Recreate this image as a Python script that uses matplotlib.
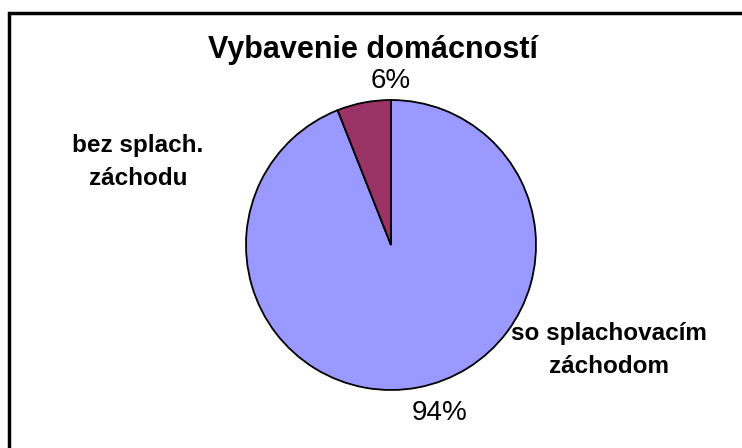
import matplotlib.pyplot as plt
from matplotlib.patches import Rectangle

# Vybavenie domácností - podiel domácností podľa splachovacieho záchodu
categories = ["so splachovacím\nzáchodom", "bez splach.\nzáchodu"]
shares = [94, 6]
pct_labels = ["94%", "6%"]
colors = ["#9999FF", "#993366"]

plt.rcParams["font.family"] = ["Liberation Sans", "DejaVu Sans"]

W, H = 742, 448
fig = plt.figure(figsize=(W / 100, H / 100), dpi=100)

# frame of the chart area (only top/left visible in the original crop)
fig.patches.append(Rectangle((9 / W, -0.1), 1.1, (H - 13) / H + 0.1,
                             transform=fig.transFigure, fill=False,
                             edgecolor="black", linewidth=2.5))

# pie box in pixels: x 246..536, y 100..390
ax = fig.add_axes([246 / W, (H - 390) / H, 290 / W, 290 / H])
ax.pie(shares, colors=colors, startangle=90, counterclock=False,
       wedgeprops=dict(edgecolor="black", linewidth=1.3))
ax.set_aspect("equal")
ax.set_xlim(-1.0, 1.0)
ax.set_ylim(-1.0, 1.0)

fig.text(373 / W, 1 - 50 / H, "Vybavenie domácností", ha="center", va="center",
         fontsize=22, fontweight="bold")

fig.text(391 / W, 1 - 81 / H, pct_labels[1], ha="center", va="center", fontsize=20)
fig.text(440 / W, 1 - 413 / H, pct_labels[0], ha="center", va="center", fontsize=20)

fig.text(138 / W, 1 - 162 / H, categories[1], ha="center", va="center",
         fontsize=17.5, fontweight="bold", linespacing=1.55)
fig.text(609 / W, 1 - 350 / H, categories[0], ha="center", va="center",
         fontsize=17.5, fontweight="bold", linespacing=1.55)

fig.savefig("out.png", dpi=100)
